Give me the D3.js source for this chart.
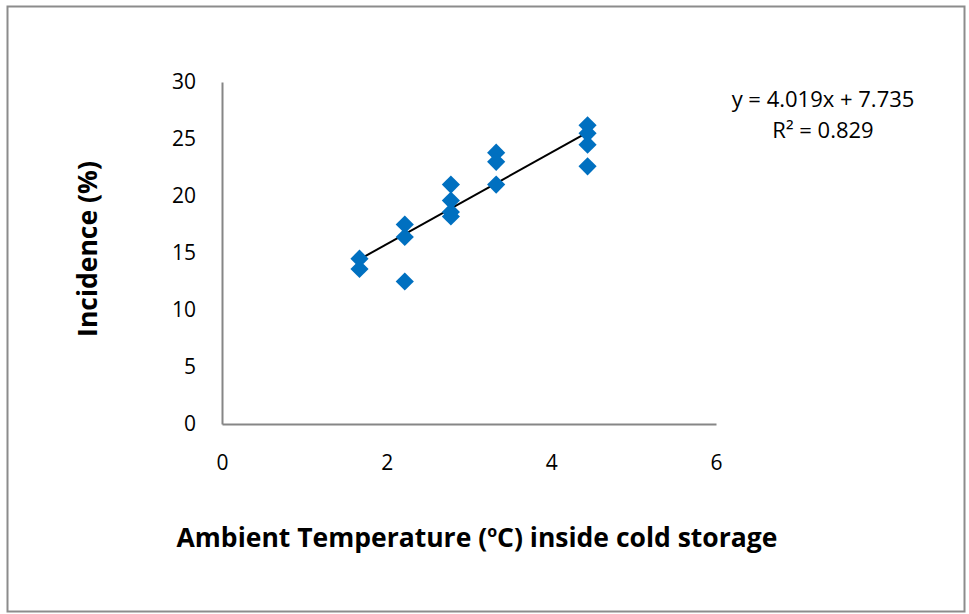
<!DOCTYPE html>
<html>
<head>
<meta charset="utf-8">
<script src="https://cdn.jsdelivr.net/npm/d3@7"></script>
<style>
  body { margin: 0; background: #fff; }
  text { font-family: "Open Sans", sans-serif; fill: #000; }
</style>
</head>
<body>
<svg id="chart" width="969" height="614"></svg>
<script>
// temperatures (°C) and incidence (%)
const temps = [1.67, 1.67, 2.22, 2.22, 2.22, 2.78, 2.78, 2.78, 2.78, 3.33, 3.33, 3.33, 4.44, 4.44, 4.44, 4.44];
const incidence = [14.5, 13.6, 17.5, 16.4, 12.5, 21.0, 19.6, 18.6, 18.2, 23.8, 23.0, 21.0, 26.2, 25.5, 24.5, 22.6];
const xTicks = [0, 2, 4, 6];
const yTicks = [0, 5, 10, 15, 20, 25, 30];
const slope = 4.019, intercept = 7.735;
const eqLines = ["y = 4.019x + 7.735", "R² = 0.829"];

const svg = d3.select("#chart");

// chart frame
svg.append("rect")
  .attr("x", 7.5).attr("y", 6.5)
  .attr("width", 957).attr("height", 605)
  .attr("fill", "#fff")
  .attr("stroke", "#8c8c8c")
  .attr("stroke-width", 2);

const x = d3.scaleLinear().domain([0, 6]).range([222, 716]);
const y = d3.scaleLinear().domain([0, 30]).range([424, 82]);

// axes (no tick marks, grey lines)
const xAxis = svg.append("g")
  .attr("transform", `translate(0,${y(0)})`)
  .call(d3.axisBottom(x).tickValues(xTicks).tickFormat(d3.format("d")).tickSize(0).tickPadding(31));
const yAxis = svg.append("g")
  .attr("transform", `translate(${x(0)},0)`)
  .call(d3.axisLeft(y).tickValues(yTicks).tickFormat(d3.format("d")).tickSize(0).tickPadding(26));

[xAxis, yAxis].forEach(a => {
  a.select(".domain").attr("stroke", "#868686").attr("stroke-width", 2);
  a.selectAll("text").style("font-size", "21px").style("font-family", "'Open Sans', sans-serif").attr("fill", "#000");
});

// trendline
const xs = d3.extent(temps);
svg.append("line")
  .attr("x1", x(xs[0])).attr("y1", y(slope * xs[0] + intercept))
  .attr("x2", x(xs[1])).attr("y2", y(slope * xs[1] + intercept))
  .attr("stroke", "#000")
  .attr("stroke-width", 2);

// diamond markers
const diamond = d3.symbol(d3.symbolSquare, 165);
svg.append("g")
  .selectAll("path")
  .data(temps.map((t, i) => ({ t, v: incidence[i] })))
  .enter().append("path")
  .attr("d", diamond)
  .attr("transform", d => `translate(${x(d.t)},${y(d.v)}) rotate(45)`)
  .attr("fill", "#0070c0");

// trendline equation
svg.append("g")
  .selectAll("text")
  .data(eqLines)
  .enter().append("text")
  .attr("x", 823)
  .attr("y", (d, i) => 107 + i * 31)
  .attr("text-anchor", "middle")
  .style("font-size", "22px")
  .text(d => d);

// axis titles
const xTitle = svg.append("text")
  .attr("x", 477).attr("y", 547)
  .attr("text-anchor", "middle")
  .style("font-size", "26.5px")
  .style("font-weight", "bold");
xTitle.append("tspan").text("Ambient Temperature (");
xTitle.append("tspan").attr("dy", -10).style("font-size", "16px").text("o");
xTitle.append("tspan").attr("dy", 10).text("C) inside cold storage");

svg.append("text")
  .attr("transform", "translate(97,249) rotate(-90)")
  .attr("text-anchor", "middle")
  .style("font-size", "26.5px")
  .style("font-weight", "bold")
  .text("Incidence (%)");
</script>
</body>
</html>
